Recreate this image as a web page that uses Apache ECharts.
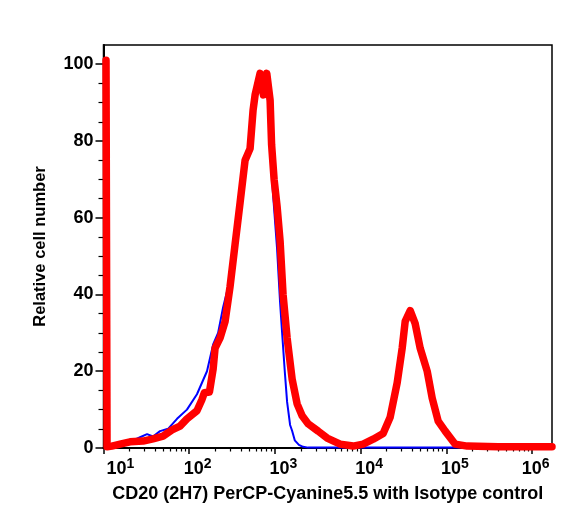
<!DOCTYPE html>
<html>
<head>
<meta charset="utf-8">
<script src="https://cdn.jsdelivr.net/npm/echarts@6/dist/echarts.min.js"></script>
<style>
html,body{margin:0;padding:0;background:#fff;}
#chart{width:573px;height:519px;}
</style>
</head>
<body>
<div id="chart"></div>
<script>
// ---- data (x = fluorescence intensity, y = relative cell number) ----
var cd20X = [10.7, 11.0, 12.5, 15.6, 20.4, 28.9, 37.8, 49.5, 63, 78, 94, 123, 140, 150, 172, 190, 200, 229, 262, 299, 342, 392, 448, 512, 555, 586, 670, 733, 802, 877, 913, 976, 1057, 1146, 1242, 1384, 1583, 1811, 2072, 2433, 3185, 4055, 5750, 8150, 10670, 13960, 18250, 22030, 26600, 30420, 32980, 37740, 43150, 49330, 59570, 68110, 80000, 96600, 126400, 174500, 400000, 1700000];
var cd20Y = [101, 0.3, 0.5, 1.0, 1.6, 1.8, 2.4, 3.1, 4.7, 5.7, 7.6, 9.7, 12.5, 14.4, 14.6, 20.6, 26, 28.7, 33, 42, 53, 64, 75, 78, 88, 92, 97.6, 92, 97.6, 90.6, 79, 70, 63, 54, 40, 28.7, 18, 11.5, 8.4, 6.3, 4.4, 2.6, 1.0, 0.5, 1.0, 2.3, 3.8, 8, 17, 26, 33, 35.8, 32.4, 26, 20, 13, 7, 4.4, 1.0, 0.5, 0.3, 0.3];

var isoX = [10.7, 11.0, 15.6, 20.4, 26.7, 32.2, 37.8, 45.6, 56.6, 72, 94, 123, 161, 190, 217, 248, 299, 342, 392, 448, 512, 555, 601, 670, 733, 790, 830, 877, 950, 1057, 1146, 1211, 1300, 1384, 1500, 1583, 1700, 1900, 2128, 2433, 1700000];
var isoY = [101, 0.3, 1.0, 1.6, 2.8, 3.6, 3.0, 4.4, 5.0, 7.6, 10.0, 14.0, 20, 27, 30, 36.6, 44, 53, 64, 75, 80, 88, 93, 97, 92, 97, 90, 78, 66, 52, 38, 30, 20, 12, 6, 4.5, 2, 0.8, 0.3, 0.1, 0.1];

var xMin = 10, xMax = 1700000;
var yMin = 0, yMax = 105;
var xDecades = [1, 2, 3, 4, 5, 6];          // exponents of labelled ticks
var yMajorTicks = [0, 20, 40, 60, 80, 100];
var yMinorTicks = [5, 10, 15, 25, 30, 35, 45, 50, 55, 65, 70, 75, 85, 90, 95];

var xTitle = 'CD20 (2H7) PerCP-Cyanine5.5 with Isotype control';
var yTitle = 'Relative cell number';

// ---- build ----
function pairs(xs, ys) { return xs.map(function (x, i) { return [x, ys[i]]; }); }

var lo = Math.log10(xMin), hi = Math.log10(xMax);
var xMinorLog = [];
for (var d = 1; d <= 6; d++) {
  for (var k = 2; k <= 9; k++) {
    var v = Math.log10(k * Math.pow(10, d));
    if (v < hi) xMinorLog.push(v);
  }
}

var font = '"Liberation Sans", Arial, Helvetica, sans-serif';
var padFor = {1: 34, 6: 7};

var rich = {};
xDecades.forEach(function (e) {
  rich['b' + e] = {fontSize: 18, fontWeight: 'bold', fontFamily: font, color: '#000',
                   padding: [0, 0, 0, padFor[e] !== undefined ? padFor[e] : 17]};
});
rich.s = {fontSize: 14, fontWeight: 'bold', fontFamily: font, color: '#000', padding: [0, 0, 11, 0]};

var chart = echarts.init(document.getElementById('chart'), null, {renderer: 'canvas'});
chart.setOption({
  animation: false,
  backgroundColor: '#fff',
  grid: {left: 103.5, right: 21, top: 45, bottom: 71, show: true, borderColor: '#000', borderWidth: 1.5, backgroundColor: 'transparent'},
  xAxis: [
    {type: 'log', logBase: 10, min: xMin, max: xMax, position: 'bottom',
     axisLine: {show: true, onZero: false, lineStyle: {color: '#000', width: 2}},
     axisTick: {show: false}, axisLabel: {show: false}, splitLine: {show: false}, minorTick: {show: false}},
    {type: 'value', min: lo, max: hi, position: 'bottom', offset: 0,
     axisLine: {show: false},
     axisTick: {show: true, customValues: xDecades, length: 6, lineStyle: {color: '#000', width: 1.5}},
     axisLabel: {show: true, customValues: xDecades, margin: 9,
       formatter: function (v) { return '{b' + v + '|10}{s|' + v + '}'; }, rich: rich},
     splitLine: {show: false},
     name: xTitle, nameLocation: 'middle', nameGap: 37,
     nameTextStyle: {fontSize: 18, fontWeight: 'bold', fontFamily: font, color: '#000'}},
    {type: 'value', min: lo, max: hi, position: 'bottom', offset: 0,
     axisLine: {show: false},
     axisTick: {show: true, customValues: xMinorLog, length: 3.5, lineStyle: {color: '#000', width: 1.2}},
     axisLabel: {show: false}, splitLine: {show: false}}
  ],
  yAxis: [
    {type: 'value', min: yMin, max: yMax, position: 'left',
     axisLine: {show: true, onZero: false, lineStyle: {color: '#000', width: 2}},
     axisTick: {show: true, customValues: yMajorTicks, length: 8, lineStyle: {color: '#000', width: 1.5}},
     axisLabel: {show: true, customValues: yMajorTicks, margin: 10, fontSize: 18, fontWeight: 'bold', fontFamily: font, color: '#000'},
     splitLine: {show: false},
     name: yTitle, nameLocation: 'middle', nameGap: 55,
     nameTextStyle: {fontSize: 16.5, fontWeight: 'bold', fontFamily: font, color: '#000'}},
    {type: 'value', min: yMin, max: yMax, position: 'left', offset: 0,
     axisLine: {show: false},
     axisTick: {show: true, customValues: yMinorTicks, length: 5, lineStyle: {color: '#000', width: 1.2}},
     axisLabel: {show: false}, splitLine: {show: false}}
  ],
  series: [
    {name: 'Isotype control', type: 'line', xAxisIndex: 0, yAxisIndex: 0, data: pairs(isoX, isoY),
     showSymbol: false, symbol: 'none', clip: false, z: 2,
     lineStyle: {color: '#0000ff', width: 2, join: 'round', cap: 'round'}},
    {name: 'CD20 (2H7)', type: 'line', xAxisIndex: 0, yAxisIndex: 0, data: pairs(cd20X, cd20Y),
     showSymbol: false, symbol: 'none', clip: false, z: 3,
     lineStyle: {color: '#ff0000', width: 7.5, join: 'round', cap: 'round'}}
  ]
});
</script>
</body>
</html>
